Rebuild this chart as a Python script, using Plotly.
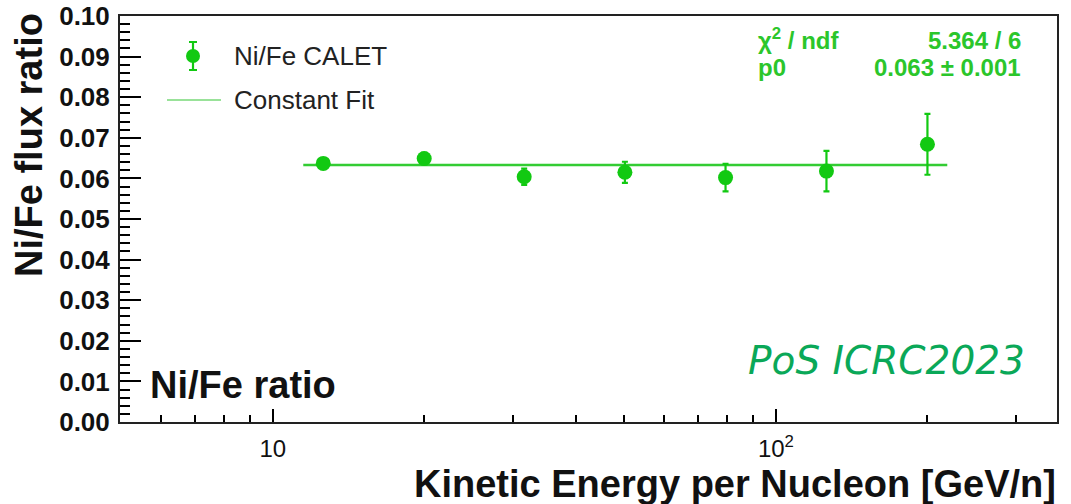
import plotly.graph_objects as go

# ---- data ----
energy = [12.6, 20.0, 31.6, 50.1, 79.4, 126.0, 200.0]
ratio = [0.0637, 0.0649, 0.0604, 0.0615, 0.0602, 0.0618, 0.0684]
ratio_err = [0.0012, 0.0014, 0.0020, 0.0026, 0.0034, 0.0050, 0.0075]
fit_range = [11.5, 219.0]
fit_p0 = 0.0633

y_ticks = [0.00, 0.01, 0.02, 0.03, 0.04, 0.05, 0.06, 0.07, 0.08, 0.09, 0.10]
x_ticks = [10, 100]
x_ticktext = ["10", "10<sup>2</sup>"]
x_minor = [6, 7, 8, 9, 20, 30, 40, 50, 60, 70, 80, 90, 200, 300]

GREEN = "#12c912"
FIT_GREEN = "#33cc33"
STAT_GREEN = "#2bc62b"
POS_GREEN = "#0aa858"

W, H = 1071, 504
L, R, T, B = 120, 14, 16, 82
PW, PH = W - L - R, H - T - B


def px(x):
    return (x - L) / PW


def py(y):
    return (H - B - y) / PH


fig = go.Figure()

fig.add_trace(go.Scatter(
    x=fit_range, y=[fit_p0, fit_p0], mode="lines",
    line=dict(color=FIT_GREEN, width=2.5), showlegend=False, hoverinfo="skip"))

fig.add_trace(go.Scatter(
    x=energy, y=ratio, mode="markers",
    marker=dict(color=GREEN, size=15, line=dict(width=0)),
    error_y=dict(type="data", array=ratio_err, color=GREEN, thickness=2.2, width=3),
    showlegend=False))

font = "Liberation Sans, Arial, Helvetica, sans-serif"

fig.update_layout(
    width=W, height=H,
    margin=dict(l=L, r=R, t=T, b=B, autoexpand=False),
    paper_bgcolor="white", plot_bgcolor="white",
    showlegend=False,
    xaxis=dict(
        type="log", range=[0.6965, 2.5585], automargin=False,
        tickvals=x_ticks, ticktext=x_ticktext,
        ticks="inside", ticklen=13, tickwidth=1.5, tickcolor="black",
        minor=dict(tickvals=x_minor, ticks="inside", ticklen=7, tickwidth=1.5, tickcolor="black"),
        showgrid=False, zeroline=False,
        showline=True, linecolor="#222", linewidth=2, mirror=True,
        tickfont=dict(family=font, size=24, color="#111"),
        ticklabelstandoff=4,
    ),
    yaxis=dict(
        range=[0, 0.1], tickvals=y_ticks, tickformat=".2f", automargin=False,
        ticks="inside", ticklen=21, tickwidth=1.5, tickcolor="black",
        minor=dict(dtick=0.002, ticks="inside", ticklen=10, tickwidth=1.5, tickcolor="black"),
        showgrid=False, zeroline=False,
        showline=True, linecolor="#222", linewidth=2, mirror=True,
        tickfont=dict(family=font, size=26, color="#111", weight="bold"),
        ticklabelstandoff=3,
    ),
)

ann = []
# axis titles
ann.append(dict(text="<b>Kinetic Energy per Nucleon [GeV/n]</b>", xref="paper", yref="paper",
                x=px(1058), y=py(484), xanchor="right", yanchor="middle", showarrow=False,
                font=dict(family=font, size=38, color="#111")))
ann.append(dict(text="<b>Ni/Fe flux ratio</b>", xref="paper", yref="paper",
                x=px(29), y=py(145), xanchor="center", yanchor="middle", showarrow=False,
                textangle=-90, font=dict(family=font, size=38, color="#111")))
# label in plot
ann.append(dict(text="<b>Ni/Fe ratio</b>", xref="paper", yref="paper",
                x=px(148), y=py(385), xanchor="left", yanchor="middle", showarrow=False,
                font=dict(family=font, size=38, color="#111")))
ann.append(dict(text="<i>PoS ICRC2023</i>", xref="paper", yref="paper",
                x=px(1027), y=py(360), xanchor="right", yanchor="middle", showarrow=False,
                font=dict(family="DejaVu Sans", size=39, color=POS_GREEN)))
# stats box
ann.append(dict(text="<b>χ<sup>2</sup> / ndf</b>", xref="paper", yref="paper",
                x=px(756), y=py(39), xanchor="left", yanchor="middle", showarrow=False,
                font=dict(family=font, size=24, color=STAT_GREEN)))
ann.append(dict(text="<b>5.364 / 6</b>", xref="paper", yref="paper",
                x=px(1023), y=py(40), xanchor="right", yanchor="middle", showarrow=False,
                font=dict(family=font, size=24, color=STAT_GREEN)))
ann.append(dict(text="<b>p0</b>", xref="paper", yref="paper",
                x=px(756), y=py(67), xanchor="left", yanchor="middle", showarrow=False,
                font=dict(family=font, size=24, color=STAT_GREEN)))
ann.append(dict(text="<b>0.063 ± 0.001</b>", xref="paper", yref="paper",
                x=px(1023), y=py(67), xanchor="right", yanchor="middle", showarrow=False,
                font=dict(family=font, size=24, color=STAT_GREEN)))
# legend texts
ann.append(dict(text="Ni/Fe CALET", xref="paper", yref="paper",
                x=px(232), y=py(56), xanchor="left", yanchor="middle", showarrow=False,
                font=dict(family=font, size=26, color="#222")))
ann.append(dict(text="Constant Fit", xref="paper", yref="paper",
                x=px(232), y=py(100), xanchor="left", yanchor="middle", showarrow=False,
                font=dict(family=font, size=26, color="#222")))
fig.update_layout(annotations=ann)

shapes = [
    # legend: marker with error bar
    dict(type="line", xref="paper", yref="paper", x0=px(193), x1=px(193), y0=py(42), y1=py(70),
         line=dict(color=GREEN, width=2.2)),
    dict(type="line", xref="paper", yref="paper", x0=px(189), x1=px(197), y0=py(42), y1=py(42),
         line=dict(color=GREEN, width=2)),
    dict(type="line", xref="paper", yref="paper", x0=px(189), x1=px(197), y0=py(70), y1=py(70),
         line=dict(color=GREEN, width=2)),
    dict(type="circle", xref="paper", yref="paper", x0=px(186), x1=px(200), y0=py(63), y1=py(49),
         fillcolor=GREEN, line=dict(width=0)),
    # legend: fit line
    dict(type="line", xref="paper", yref="paper", x0=px(167), x1=px(221), y0=py(100), y1=py(100),
         line=dict(color="#77d877", width=1.5)),
]
fig.update_layout(shapes=shapes)

fig.write_html("out.html")
